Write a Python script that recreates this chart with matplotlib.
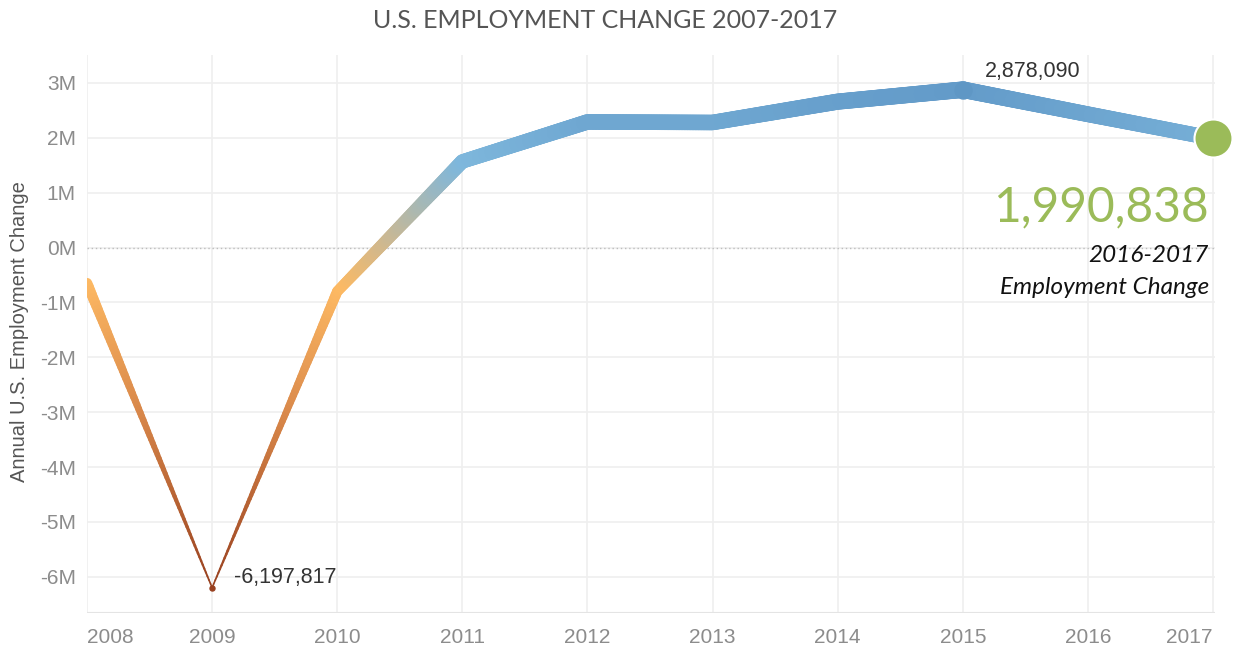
#!/usr/bin/env python3
"""U.S. employment change 2007-2017, tapered colour line."""

import numpy as np
import matplotlib
matplotlib.use('Agg')
import matplotlib.pyplot as plt
from matplotlib.collections import LineCollection
from matplotlib.colors import LinearSegmentedColormap, Normalize
from matplotlib.ticker import FuncFormatter

# Data (annual change in employment, persons)
years = [2008, 2009, 2010, 2011, 2012, 2013, 2014, 2015, 2016, 2017]
change = [-650000, -6197817, -800000, 1570000, 2290000, 2280000, 2660000,
          2878090, 2430000, 1990838]
y_ticks = [-6e6, -5e6, -4e6, -3e6, -2e6, -1e6, 0, 1e6, 2e6, 3e6]

W, H = 1233, 646
PX = 72 / 100  # points per pixel at dpi 100

fig = plt.figure(figsize=(W / 100, H / 100), dpi=100)
ax = fig.add_axes([87 / W, 1 - 613 / H, (1215 - 87) / W, (613 - 55) / H])
ax.set_xlim(2008, 2017.016)
ax.set_ylim(-6.66e6, 3.51e6)

# grid
for s in ax.spines.values():
    s.set_visible(False)
ax.set_xticks(years)
ax.set_yticks(y_ticks)
ax.grid(True, color='#efefef', linewidth=1.2)
ax.set_axisbelow(True)
ax.axhline(0, color='#bdbdbd', linestyle=(0, (1, 2)), linewidth=1, zorder=1)
ax.axhline(ax.get_ylim()[0], color='#e4e4e4', linewidth=1.5, zorder=1)
ax.tick_params(length=0, labelsize=15, labelcolor='#8c8c8c')
ax.tick_params(axis='x', pad=10.5)
ax.tick_params(axis='y', pad=8)
ax.yaxis.set_major_formatter(FuncFormatter(lambda v, p: f'{v / 1e6:.0f}M'))
for lab in ax.get_xticklabels() + ax.get_yticklabels():
    lab.set_fontfamily('Liberation Sans')
xlabs = ax.get_xticklabels()
xlabs[0].set_ha('left')
xlabs[-1].set_ha('right')

# colour + width scale by value
vals = np.array(change, dtype=float)
vmin, vmax = vals.min(), vals.max()
cmap = LinearSegmentedColormap.from_list('ob', [
    (0.0, '#98401f'),
    ((-3.0e6 - vmin) / (vmax - vmin), '#d9884a'),
    ((-0.7e6 - vmin) / (vmax - vmin), '#fdb963'),
    ((1.6e6 - vmin) / (vmax - vmin), '#7eb7dc'),
    (1.0, '#639bc9'),
])
norm = Normalize(vmin, vmax)


def width_px(v):
    return 1.5 + (v - vmin) / (vmax - vmin) * 15.0


segs, cols, lws = [], [], []
n = 80
for i in range(len(years) - 1):
    t = np.linspace(0, 1, n + 1)
    xs = years[i] + (years[i + 1] - years[i]) * t
    ys = vals[i] + (vals[i + 1] - vals[i]) * t
    for j in range(n):
        segs.append([(xs[j], ys[j]), (xs[j + 1], ys[j + 1])])
        vm = 0.5 * (ys[j] + ys[j + 1])
        cols.append(cmap(norm(vm)))
        lws.append(width_px(vm) * PX)
lc = LineCollection(segs, colors=cols, linewidths=lws, capstyle='round',
                    joinstyle='round', zorder=3)
ax.add_collection(lc)

# markers on labelled points
i09 = years.index(2009)
i15 = years.index(2015)
ax.plot(years[i09], vals[i09], 'o', ms=5 * PX, color='#98401f', zorder=4)
ax.plot(years[i15], vals[i15], 'o', ms=17 * PX, color='#5f97c5', zorder=4)
ax.plot(years[-1], vals[-1], 'o', ms=38 * PX, color='#9bbb59',
        markeredgecolor='white', markeredgewidth=1.5, zorder=5, clip_on=False)

ax.annotate(f'{change[i15]:,}', (years[i15], vals[i15]), xytext=(22 * PX, 18 * PX),
            textcoords='offset points', ha='left', va='center', fontsize=15.5,
            color='#333333', family='Liberation Sans')
ax.annotate(f'{change[i09]:,}', (years[i09], vals[i09]), xytext=(22 * PX, 10 * PX),
            textcoords='offset points', ha='left', va='center', fontsize=15.5,
            color='#333333', family='Liberation Sans')

# callout on the right
fig.text(1209 / W, 1 - 207 / H, f'{change[-1]:,}', ha='right', va='center',
         fontsize=34.5, color='#9bbb59', family='Lato')
fig.text(1209 / W, 1 - 256 / H, '2016-2017', ha='right', va='center',
         fontsize=17.5, style='italic', color='#111111', family='Lato')
fig.text(1209 / W, 1 - 287 / H, 'Employment Change', ha='right', va='center',
         fontsize=17.5, style='italic', color='#111111', family='Lato')

fig.text(605 / W, 1 - 20 / H, 'U.S. EMPLOYMENT CHANGE 2007-2017', ha='center',
         va='center', fontsize=18, color='#555555', family='Lato')
fig.text(20 / W, 1 - 332 / H, 'Annual U.S. Employment Change', rotation=90,
         ha='center', va='center', fontsize=14.5, color='#555555',
         family='Liberation Sans')

fig.savefig('out.png', dpi=100)
